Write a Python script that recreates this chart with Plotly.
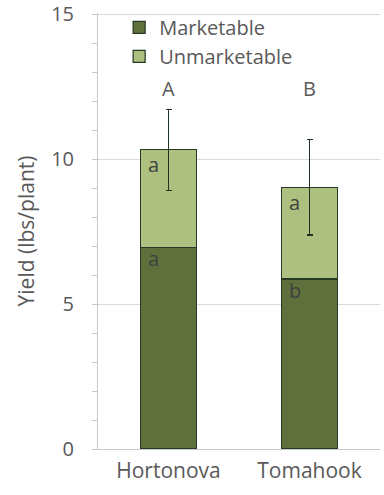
import plotly.graph_objects as go

categories = ["Hortonova", "Tomahook"]
marketable = [6.96, 5.86]
unmarketable = [3.36, 3.17]
total_error = [1.39, 1.65]
total_letters = ["A", "B"]
marketable_letters = ["a", "b"]
unmarketable_letters = ["a", "a"]
letter_y = 12.43

FONT = "Open Sans"
TXT = "#595959"
DARK = "#404040"

fig = go.Figure()
fig.add_trace(go.Bar(
    x=categories, y=marketable, name="Marketable",
    marker=dict(color="#5F703C", line=dict(color="#263A26", width=1.25)),
))
fig.add_trace(go.Bar(
    x=categories, y=unmarketable, name="Unmarketable",
    marker=dict(color="#ADC07F", line=dict(color="#263A26", width=1.25)),
    error_y=dict(type="data", array=total_error, visible=True,
                 color="#1E3320", thickness=1.2, width=3),
))

annotations = []
for i, c in enumerate(categories):
    annotations.append(dict(x=c, y=letter_y, text=total_letters[i], showarrow=False,
                            font=dict(family=FONT, size=20, color=TXT),
                            xanchor="center", yanchor="middle"))
    annotations.append(dict(x=c, y=marketable[i], text=marketable_letters[i], showarrow=False,
                            font=dict(family=FONT, size=20, color=DARK),
                            xanchor="left", yanchor="middle", xshift=-23, yshift=-11))
    annotations.append(dict(x=c, y=marketable[i] + unmarketable[i], text=unmarketable_letters[i],
                            showarrow=False, font=dict(family=FONT, size=20, color=DARK),
                            xanchor="left", yanchor="middle", xshift=-23, yshift=-15))

fig.update_layout(
    barmode="stack",
    bargap=0.6,
    width=384, height=495,
    margin=dict(l=98, r=4, t=13, b=46),
    plot_bgcolor="white", paper_bgcolor="white",
    font=dict(family=FONT, color=TXT, size=20),
    showlegend=True,
    legend=dict(x=0.075, y=1.012, xanchor="left", yanchor="top",
                font=dict(family=FONT, size=20, color=TXT),
                bgcolor="rgba(0,0,0,0)", traceorder="normal",
                itemwidth=30, tracegroupgap=0),
    annotations=annotations,
    xaxis=dict(showline=True, linecolor="#C8C8C8", linewidth=1, ticks="",
               tickfont=dict(family=FONT, size=21, color=TXT),
               ticklabelstandoff=3, automargin=False),
    yaxis=dict(range=[0, 15.04], tickvals=[0, 5, 10, 15], showgrid=True,
               gridcolor="#D9D9D9", gridwidth=1,
               showline=True, linecolor="#C8C8C8", linewidth=1,
               ticks="outside", ticklen=5, tickcolor="#C8C8C8",
               minor=dict(dtick=1, ticks="outside", ticklen=5, tickcolor="#C8C8C8", showgrid=False),
               tickfont=dict(family=FONT, size=20, color=TXT),
               ticklabelstandoff=14, ticklabeloverflow="allow",
               zeroline=False, automargin=False,
               title=dict(text="Yield (lbs/plant)", font=dict(family=FONT, size=21, color=TXT),
                          standoff=10)),
)

fig.write_html("out.html")
